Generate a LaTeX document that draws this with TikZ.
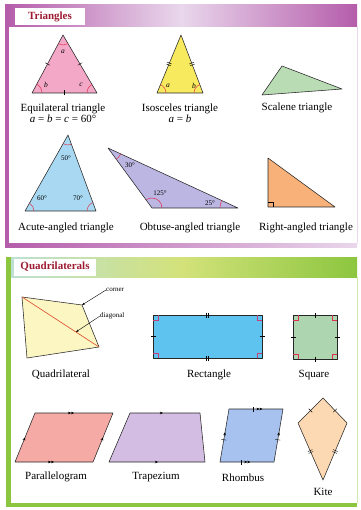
\documentclass[tikz,border=0pt]{standalone}
\usepackage{fontspec}
\setmainfont{Liberation Serif}
\usepackage{xcolor}
\usetikzlibrary{positioning,arrows.meta,calc,angles,decorations.markings}

\definecolor{plum}{HTML}{B55DAA}
\definecolor{plumlight}{HTML}{E9D7EC}
\definecolor{leaf}{HTML}{8CC63F}
\definecolor{mint}{HTML}{BCE0D4}
\definecolor{lime}{HTML}{D3E27A}
\definecolor{titlered}{HTML}{9E1B32}
\definecolor{arcred}{HTML}{E0304E}
\definecolor{cornerred}{HTML}{C8407A}
\definecolor{eqpink}{HTML}{F3A8C7}
\definecolor{isoyellow}{HTML}{F8EA5E}
\definecolor{scagreen}{HTML}{B9DCB5}
\definecolor{acublue}{HTML}{A9D9F2}
\definecolor{obtlav}{HTML}{BCB6E3}
\definecolor{rtorange}{HTML}{F8B279}
\definecolor{quadyellow}{HTML}{FCF6C3}
\definecolor{diagred}{HTML}{E05A3A}
\definecolor{rectblue}{HTML}{5EC3EE}
\definecolor{sqgreen}{HTML}{ADD6B0}
\definecolor{parsalmon}{HTML}{F5AAA5}
\definecolor{traplilac}{HTML}{D3BDE2}
\definecolor{rhomblue}{HTML}{A7C2EF}
\definecolor{kitepeach}{HTML}{FCD9B3}

\begin{document}
\begin{tikzpicture}[x=1pt, y=-1pt,
  lbl/.style={font=\fontsize{11}{11}\selectfont, align=center, inner sep=0pt},
  ttl/.style={fill=white, font=\fontsize{11}{13}\selectfont\bfseries, text=titlered,
              minimum height=17pt, inner xsep=0pt},
  shp/.style={draw=black!85, line width=0.55pt, line join=round},
  ang/.style={draw=arcred, line width=0.5pt, angle radius=#1},
  ang/.default=9pt,
  sm/.style={font=\fontsize{7}{8}\selectfont, inner sep=0pt},
  it/.style={font=\fontsize{7.5}{8}\selectfont\itshape, inner sep=0pt},
  tk/.style={postaction={decorate, decoration={markings,
      mark=at position #1 with {\draw[black, line width=0.4pt] (0,-2.5pt) -- (0,2.5pt);}}}},
  tk/.default=0.5,
  tktk/.style={postaction={decorate, decoration={markings,
      mark=at position 0.5 with {\draw[black, line width=0.4pt] (-1pt,-2.5pt) -- (-1pt,2.5pt) (1pt,-2.5pt) -- (1pt,2.5pt);}}}},
  ar/.style={postaction={decorate, decoration={markings,
      mark=at position #1 with {\arrow{Stealth[length=3pt,width=2.6pt]}}}}},
  ar/.default=0.5,
  arar/.style={postaction={decorate, decoration={markings,
      mark=at position #1 with {\arrow{Stealth[length=3pt,width=2.6pt] Stealth[length=3pt,width=2.6pt]}}}}},
  arar/.default=0.5,
  rt/.style={draw=cornerred, line width=0.5pt},
  pointer/.style={-{Stealth[length=3pt,width=2pt]}, line width=0.4pt}
]
\useasboundingbox (0,0) rectangle (360,510);
\fill[white] (0,0) rectangle (360,510);

% triangles panel
\shade[left color=plum, right color=plum, middle color=plumlight] (5,5) rectangle (357,27);
\fill[plum] (5,5) rectangle (9,247);
\shade[left color=plum, right color=plumlight] (5,243) rectangle (357,247);
\draw[plumlight, line width=0.6pt] (357,27) -- (357,243);
\node[ttl, minimum width=70pt] (tritl) at (50,16.5) {Triangles};

% equilateral
\coordinate (eA) at (63,35); \coordinate (eB) at (32,93); \coordinate (eC) at (97,93);
\filldraw[shp, fill=eqpink] (eA) -- (eB) -- (eC) -- cycle;
\foreach \p/\q in {eB/eA, eA/eC, eB/eC} \path[tk] (\p) -- (\q);
\pic[ang=10pt] {angle=eB--eA--eC};
\pic[ang=10pt] {angle=eC--eB--eA};
\pic[ang=10pt] {angle=eA--eC--eB};
\node[it] (ea) at (63,52) {a};
\node[it] (eb) at (46,85) {b};
\node[it] (ec) at (81,85) {c};
\node[lbl] (eqlbl) at (63,113.5) {Equilateral triangle\\\textit{a} = \textit{b} = \textit{c} = 60°};

% isosceles
\coordinate (iA) at (181,35); \coordinate (iB) at (157,93); \coordinate (iC) at (203,93);
\filldraw[shp, fill=isoyellow] (iA) -- (iB) -- (iC) -- cycle;
\foreach \p/\q in {iB/iA, iC/iA} \path[tktk] (\p) -- (\q);
\pic[ang] {angle=iC--iB--iA};
\pic[ang] {angle=iA--iC--iB};
\node[it] (ia) at (168,86) {a};
\node[it] (ib) at (194,86) {b};
\node[lbl] (isolbl) at (180,113.5) {Isosceles triangle\\\textit{a} = \textit{b}};

% scalene
\coordinate (sA) at (262,95); \coordinate (sB) at (282,66); \coordinate (sC) at (342,89);
\filldraw[shp, fill=scagreen] (sA) -- (sB) -- (sC) -- cycle;
\node[lbl] (scalbl) at (297,108) {Scalene triangle};

% acute
\coordinate (aA) at (68,135); \coordinate (aB) at (25,211); \coordinate (aC) at (96,211);
\filldraw[shp, fill=acublue] (aA) -- (aB) -- (aC) -- cycle;
\pic[ang=10pt] {angle=aB--aA--aC};
\pic[ang] {angle=aC--aB--aA};
\pic[ang] {angle=aA--aC--aB};
\node[sm] (a50) at (66,158) {50°};
\node[sm] (a60) at (42,198) {60°};
\node[sm] (a70) at (78,198) {70°};
\node[lbl] (aculbl) at (66,228) {Acute-angled triangle};

% obtuse
\coordinate (oA) at (108,148); \coordinate (oB) at (152,208); \coordinate (oC) at (238,208);
\filldraw[shp, fill=obtlav] (oA) -- (oB) -- (oC) -- cycle;
\pic[ang=14pt] {angle=oB--oA--oC};
\pic[ang=10pt] {angle=oC--oB--oA};
\pic[ang=18pt] {angle=oA--oC--oB};
\node[sm] (o30) at (130,165) {30°};
\node[sm] (o125) at (160,193) {125°};
\node[sm] (o25) at (210,203) {25°};
\node[lbl] (obtlbl) at (190,228) {Obtuse-angled triangle};

% right-angled
\coordinate (rA) at (268,158); \coordinate (rB) at (268,207); \coordinate (rC) at (335,207);
\filldraw[shp, fill=rtorange] (rA) -- (rB) -- (rC) -- cycle;
\draw[line width=0.4pt] ($(rB)+(0,-5)$) -| ($(rB)+(5,0)$);
\node[lbl] (rtlbl) at (306,228) {Right-angled triangle};

% quadrilaterals panel
\shade[left color=mint, right color=leaf, middle color=lime] (6,257) rectangle (357,277);
\fill[leaf] (6,257) rectangle (11,507);
\fill[leaf] (6,503) rectangle (357,507);
\draw[leaf!40, line width=0.6pt] (357,277) -- (357,503);
\node[ttl, minimum width=82pt] (quadtl) at (55,267) {Quadrilaterals};

% quadrilateral
\coordinate (q1) at (22,297); \coordinate (q2) at (82,305);
\coordinate (q3) at (99,347); \coordinate (q4) at (27,358);
\filldraw[shp, fill=quadyellow] (q1) -- (q2) -- (q3) -- (q4) -- cycle;
\draw[diagred, line width=0.7pt] (q1) -- (q3);
\coordinate (dpt) at ($(q1)!0.7!(q3)$);
\node[sm, anchor=west] (cornerlbl) at (106,290) {corner};
\node[sm, anchor=west] (diaglbl) at (100,316) {diagonal};
\draw[pointer] (cornerlbl.west) -- (q2);
\draw[pointer] (diaglbl.west) -- (dpt);
\node[lbl] (quadlbl) at (61,375) {Quadrilateral};

% rectangle
\coordinate (c1) at (153,315); \coordinate (c2) at (262,315);
\coordinate (c3) at (262,358); \coordinate (c4) at (153,358);
\filldraw[shp, fill=rectblue] (c1) -- (c2) -- (c3) -- (c4) -- cycle;
\foreach \p/\q in {c1/c2, c4/c3} \path[tktk] (\p) -- (\q);
\foreach \p/\q in {c1/c4, c2/c3} \path[tk] (\p) -- (\q);
\foreach \c/\dx/\dy in {c1/5/5, c2/-5/5, c3/-5/-5, c4/5/-5}
  \draw[rt] ($(\c)+(\dx,0)$) |- ($(\c)+(0,\dy)$);
\node[lbl] (rectlbl) at (209,375) {Rectangle};

% square
\coordinate (s1) at (293,315); \coordinate (s2) at (337,315);
\coordinate (s3) at (337,359); \coordinate (s4) at (293,359);
\filldraw[shp, fill=sqgreen] (s1) -- (s2) -- (s3) -- (s4) -- cycle;
\foreach \p/\q in {s1/s2, s4/s3, s1/s4, s2/s3} \path[tk] (\p) -- (\q);
\foreach \c/\dx/\dy in {s1/5/5, s2/-5/5, s3/-5/-5, s4/5/-5}
  \draw[rt, draw=arcred] ($(\c)+(\dx,0)$) |- ($(\c)+(0,\dy)$);
\node[lbl] (sqlbl) at (314,375) {Square};

% parallelogram
\coordinate (p1) at (35,413); \coordinate (p2) at (113,413);
\coordinate (p3) at (93,462); \coordinate (p4) at (15,462);
\filldraw[shp, fill=parsalmon] (p1) -- (p2) -- (p3) -- (p4) -- cycle;
\foreach \p/\q in {p1/p2, p4/p3} \path[arar] (\p) -- (\q);
\foreach \p/\q in {p4/p1, p3/p2} \path[ar] (\p) -- (\q);
\node[lbl] (parlbl) at (56,477) {Parallelogram};

% trapezium
\coordinate (t1) at (130,413); \coordinate (t2) at (200,413);
\coordinate (t3) at (205,462); \coordinate (t4) at (109,462);
\filldraw[shp, fill=traplilac] (t1) -- (t2) -- (t3) -- (t4) -- cycle;
\path[ar=0.47] (t1) -- (t2);
\path[ar=0.51] (t4) -- (t3);
\node[lbl] (traplbl) at (156,477) {Trapezium};

% rhombus
\coordinate (h1) at (229,409); \coordinate (h2) at (283,409);
\coordinate (h3) at (274,462); \coordinate (h4) at (220,462);
\filldraw[shp, fill=rhomblue] (h1) -- (h2) -- (h3) -- (h4) -- cycle;
\path[tk=0.44, arar=0.62] (h1) -- (h2);
\path[tk=0.39, arar=0.56] (h4) -- (h3);
\path[tk=0.42, ar=0.56] (h4) -- (h1);
\path[tk=0.42, ar=0.56] (h3) -- (h2);
\node[lbl] (rhomlbl) at (243,478) {Rhombus};

% kite
\coordinate (k1) at (323,398); \coordinate (k2) at (347,423);
\coordinate (k3) at (323,480); \coordinate (k4) at (298,423);
\filldraw[shp, fill=kitepeach] (k1) -- (k2) -- (k3) -- (k4) -- cycle;
\foreach \p/\q in {k1/k2, k4/k1} \path[tk] (\p) -- (\q);
\foreach \p/\q in {k2/k3, k3/k4} \path[tktk] (\p) -- (\q);
\node[lbl] (kitelbl) at (323,492) {Kite};
\end{tikzpicture}
\end{document}
